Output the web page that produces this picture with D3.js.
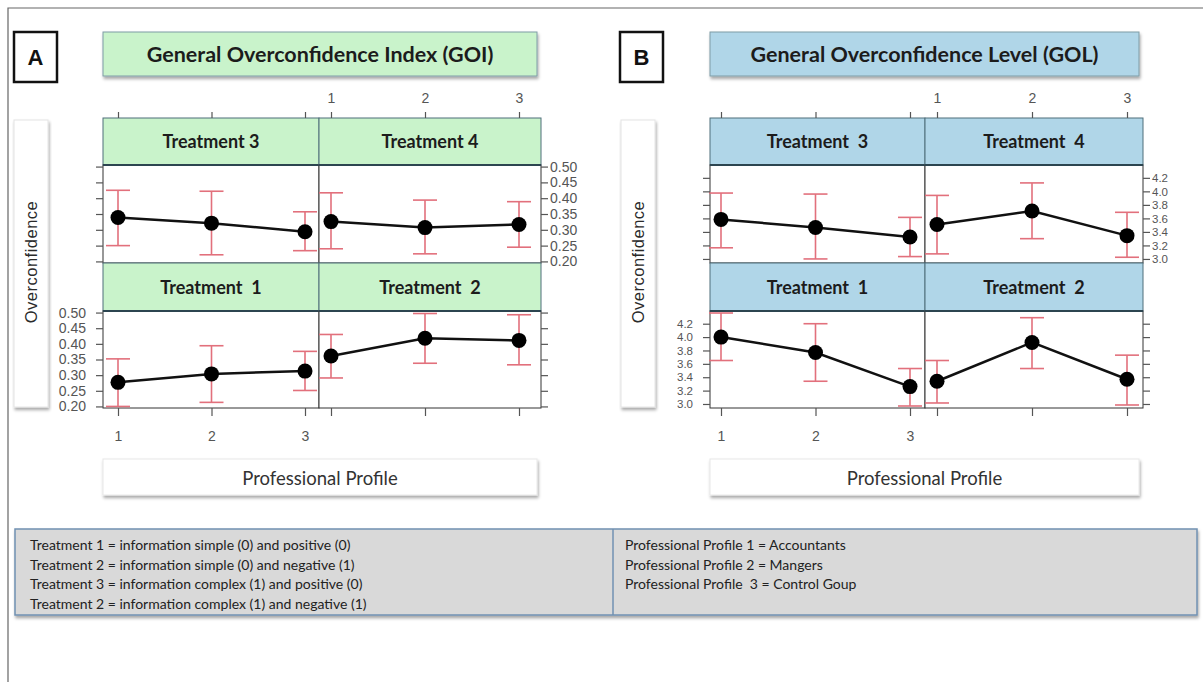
<!DOCTYPE html>
<html>
<head>
<meta charset="utf-8">
<script src="https://cdn.jsdelivr.net/npm/d3@7"></script>
<style>
  html, body { margin: 0; padding: 0; background: #fff; }
  svg { display: block; }
</style>
</head>
<body>
<svg id="chart" width="1203" height="682"></svg>
<script>
// ---------------- DATA ----------------
const profiles = [1, 2, 3];
const treatmentNames = ["Treatment  1", "Treatment  2", "Treatment 3", "Treatment 4"];
const treatmentNamesB = ["Treatment  1", "Treatment  2", "Treatment  3", "Treatment  4"];
const goiTicks = [0.20, 0.25, 0.30, 0.35, 0.40, 0.45, 0.50];
const golTicks = [3.0, 3.2, 3.4, 3.6, 3.8, 4.0, 4.2];

// rows: Treatment 1..4 ; columns: Professional Profile 1..3
const goiMean = [[0.277, 0.304, 0.313], [0.361, 0.418, 0.411], [0.339, 0.321, 0.294], [0.326, 0.307, 0.317]];
const goiLow  = [[0.200, 0.213, 0.251], [0.291, 0.338, 0.333], [0.250, 0.221, 0.234], [0.240, 0.224, 0.245]];
const goiHigh = [[0.352, 0.394, 0.376], [0.430, 0.497, 0.493], [0.425, 0.422, 0.357], [0.417, 0.394, 0.389]];

const golMean = [[4.00, 3.77, 3.26], [3.34, 3.92, 3.37], [3.585, 3.465, 3.325], [3.51, 3.71, 3.345]];
const golLow  = [[3.65, 3.34, 2.97], [3.015, 3.53, 2.985], [3.165, 3.00, 3.035], [3.075, 3.30, 3.025]];
const golHigh = [[4.36, 4.20, 3.53], [3.65, 4.29, 3.73], [3.975, 3.96, 3.615], [3.94, 4.125, 3.69]];

const legendLeft = [
  "Treatment 1 = information simple (0) and positive (0)",
  "Treatment 2 = information simple (0) and negative (1)",
  "Treatment 3 = information complex (1) and positive (0)",
  "Treatment 2 = information complex (1) and negative (1)"
];
const legendRight = [
  "Professional Profile 1 = Accountants",
  "Professional Profile 2 = Mangers",
  "Professional Profile\u00a0 3 = Control Goup"
];

// ---------------- LAYOUT ----------------
const svg = d3.select("#chart");
const defs = svg.append("defs");
const f = defs.append("filter").attr("id", "shadow").attr("x", "-5%").attr("y", "-10%").attr("width", "115%").attr("height", "140%");
f.append("feDropShadow").attr("dx", 1).attr("dy", 2.5).attr("stdDeviation", 1.5).attr("flood-color", "#000").attr("flood-opacity", 0.35);

// outer frame
svg.append("path").attr("d", "M8,682 V8 H1203").attr("fill", "none").attr("stroke", "#666").attr("stroke-width", 1.2);

const rows = { strip1: [118, 165], plot1: [165, 263], strip2: [263, 311], plot2: [311, 408] };

const panels = [
  {
    letter: "A", letterX: 14, title: "General Overconfidence Index (GOI)", fill: "#c9f3cb",
    left: 103, mid: 319, right: 541, colTicks: [[118, 305], [331, 519]],
    ylabX: 14, domain: [0.195, 0.505], ticks: goiTicks, fmt: d3.format(".2f"), tickFs: 14,
    mean: goiMean, low: goiLow, high: goiHigh, names: treatmentNames
  },
  {
    letter: "B", letterX: 620, title: "General Overconfidence Level (GOL)", fill: "#b0d6e8",
    left: 710, mid: 925, right: 1143, colTicks: [[721, 910], [937, 1127]],
    ylabX: 621, domain: [2.94, 4.39], ticks: golTicks, fmt: d3.format(".1f"), tickFs: 11.5,
    mean: golMean, low: golLow, high: golHigh, names: treatmentNamesB
  }
];

const tickFont = "'Liberation Sans', Arial, sans-serif";
const boxFont = "Lato, 'Open Sans', sans-serif";

panels.forEach(p => {
  const g = svg.append("g");

  // letter box
  g.append("rect").attr("x", p.letterX).attr("y", 32).attr("width", 43).attr("height", 50)
    .attr("fill", "#fff").attr("stroke", "#111").attr("stroke-width", 2.5);
  g.append("text").attr("x", p.letterX + 21.5).attr("y", 65).attr("text-anchor", "middle")
    .attr("font-family", tickFont).attr("font-weight", "bold").attr("font-size", 22).attr("fill", "#111").text(p.letter);

  // title box
  g.append("rect").attr("x", p.left).attr("y", 32).attr("width", p.right - p.left - 4).attr("height", 44)
    .attr("fill", p.fill).attr("stroke", "#7f9ca6").attr("stroke-width", 1).attr("filter", "url(#shadow)");
  g.append("text").attr("x", (p.left + p.right - 4) / 2).attr("y", 62).attr("text-anchor", "middle")
    .attr("font-family", boxFont).attr("font-weight", "bold").attr("font-size", 21.5).attr("fill", "#1c1c1c").text(p.title);

  // y label box
  g.append("rect").attr("x", p.ylabX).attr("y", 120).attr("width", 34).attr("height", 287)
    .attr("fill", "#fff").attr("stroke", "#e4e4e4").attr("stroke-width", 1).attr("filter", "url(#shadow)");
  g.append("text").attr("transform", `translate(${p.ylabX + 23},262) rotate(-90)`).attr("text-anchor", "middle")
    .attr("font-family", tickFont).attr("font-size", 16.5).attr("letter-spacing", 0.5).attr("fill", "#2a2a2a").text("Overconfidence");

  // x label box
  g.append("rect").attr("x", p.left).attr("y", 459).attr("width", p.right - p.left - 4).attr("height", 36)
    .attr("fill", "#fff").attr("stroke", "#e8e8e8").attr("stroke-width", 1).attr("filter", "url(#shadow)");
  g.append("text").attr("x", (p.left + p.right - 4) / 2).attr("y", 485).attr("text-anchor", "middle")
    .attr("font-family", boxFont).attr("font-size", 18.5).attr("fill", "#333").text("Professional Profile");

  const y1 = d3.scaleLinear().domain(p.domain).range([rows.plot1[1], rows.plot1[0]]);
  const y2 = d3.scaleLinear().domain(p.domain).range([rows.plot2[1], rows.plot2[0]]);
  const xs = p.colTicks.map(r => d3.scaleLinear().domain([1, 3]).range(r));
  const colX = [[p.left, p.mid], [p.mid, p.right]];

  const cells = [
    { ys: y1, row: "1", col: 0, t: 2 },
    { ys: y1, row: "1", col: 1, t: 3 },
    { ys: y2, row: "2", col: 0, t: 0 },
    { ys: y2, row: "2", col: 1, t: 1 }
  ];

  cells.forEach(c => {
    const [cx0, cx1] = colX[c.col];
    const st = rows["strip" + c.row], pl = rows["plot" + c.row];
    g.append("rect").attr("x", cx0).attr("y", st[0]).attr("width", cx1 - cx0).attr("height", st[1] - st[0])
      .attr("fill", p.fill).attr("stroke", "#4f6f7b").attr("stroke-width", 1);
    g.append("text").attr("x", (cx0 + cx1) / 2).attr("y", (st[0] + st[1]) / 2 + 6.5).attr("text-anchor", "middle")
      .attr("font-family", boxFont).attr("font-weight", "bold").attr("font-size", 18).attr("fill", "#1c1c1c")
      .style("white-space", "pre").text(p.names[c.t]);
    g.append("rect").attr("x", cx0).attr("y", pl[0]).attr("width", cx1 - cx0).attr("height", pl[1] - pl[0])
      .attr("fill", "#fff").attr("stroke", "#333").attr("stroke-width", 1);
    g.append("line").attr("x1", cx0).attr("x2", cx1).attr("y1", pl[0]).attr("y2", pl[0])
      .attr("stroke", "#2c4550").attr("stroke-width", 2.2);

    const x = xs[c.col];
    const ys = c.ys;
    const m = p.mean[c.t], lo = p.low[c.t], hi = p.high[c.t];
    const eb = g.append("g").attr("stroke", "#e2707c").attr("stroke-width", 1.6);
    profiles.forEach((pp, i) => {
      eb.append("line").attr("x1", x(pp)).attr("x2", x(pp)).attr("y1", ys(lo[i])).attr("y2", ys(hi[i]));
      eb.append("line").attr("x1", x(pp) - 12).attr("x2", x(pp) + 12).attr("y1", ys(lo[i])).attr("y2", ys(lo[i]));
      eb.append("line").attr("x1", x(pp) - 12).attr("x2", x(pp) + 12).attr("y1", ys(hi[i])).attr("y2", ys(hi[i]));
    });
    g.append("path").datum(profiles.map((pp, i) => [pp, m[i]]))
      .attr("fill", "none").attr("stroke", "#111").attr("stroke-width", 2.5)
      .attr("d", d3.line().x(d => x(d[0])).y(d => ys(d[1])));
    g.selectAll(null).data(profiles.map((pp, i) => [pp, m[i]])).enter().append("circle")
      .attr("cx", d => x(d[0])).attr("cy", d => ys(d[1])).attr("r", 7.5).attr("fill", "#000");
  });

  function styleAxis(sel, fs) {
    sel.select(".domain").remove();
    sel.selectAll(".tick line").attr("stroke", "#555").attr("stroke-width", 1.2);
    sel.selectAll(".tick text").attr("font-family", tickFont).attr("font-size", fs).attr("fill", "#555");
  }
  xs.forEach((x, ci) => {
    const ax = d3.axisTop(x).tickValues(profiles).tickSize(6).tickPadding(9)
      .tickFormat(ci === 1 ? d3.format("d") : () => "");
    g.append("g").attr("transform", `translate(0,${rows.strip1[0]})`).call(ax).call(s => styleAxis(s, 14));
    const bx = d3.axisBottom(x).tickValues(profiles).tickSize(8).tickPadding(15)
      .tickFormat(ci === 0 ? d3.format("d") : () => "");
    g.append("g").attr("transform", `translate(0,${rows.plot2[1]})`).call(bx).call(s => styleAxis(s, 14));
  });
  [[y1, 1], [y2, 2]].forEach(([ys, r]) => {
    const la = d3.axisLeft(ys).tickValues(p.ticks).tickSize(7).tickPadding(10)
      .tickFormat(r === 2 ? p.fmt : () => "");
    g.append("g").attr("transform", `translate(${p.left},0)`).call(la).call(s => styleAxis(s, p.tickFs));
    const ra = d3.axisRight(ys).tickValues(p.ticks).tickSize(7).tickPadding(2)
      .tickFormat(r === 1 ? p.fmt : () => "");
    g.append("g").attr("transform", `translate(${p.right},0)`).call(ra).call(s => styleAxis(s, p.tickFs));
  });
});

// legend box
const lg = svg.append("g");
lg.append("rect").attr("x", 15).attr("y", 529).attr("width", 1182).attr("height", 86)
  .attr("fill", "#d9d9d9").attr("stroke", "#7091b2").attr("stroke-width", 1.5).attr("filter", "url(#shadow)");
lg.append("line").attr("x1", 613).attr("x2", 613).attr("y1", 529).attr("y2", 615).attr("stroke", "#7091b2").attr("stroke-width", 1.5);
lg.selectAll(null).data(legendLeft).enter().append("text")
  .attr("x", 30).attr("y", (d, i) => 550 + i * 19.5)
  .attr("font-family", boxFont).attr("font-size", 14).attr("fill", "#222").text(d => d);
lg.selectAll(null).data(legendRight).enter().append("text")
  .attr("x", 625).attr("y", (d, i) => 550 + i * 19.5)
  .attr("font-family", boxFont).attr("font-size", 14).attr("fill", "#222").text(d => d);
</script>
</body>
</html>
